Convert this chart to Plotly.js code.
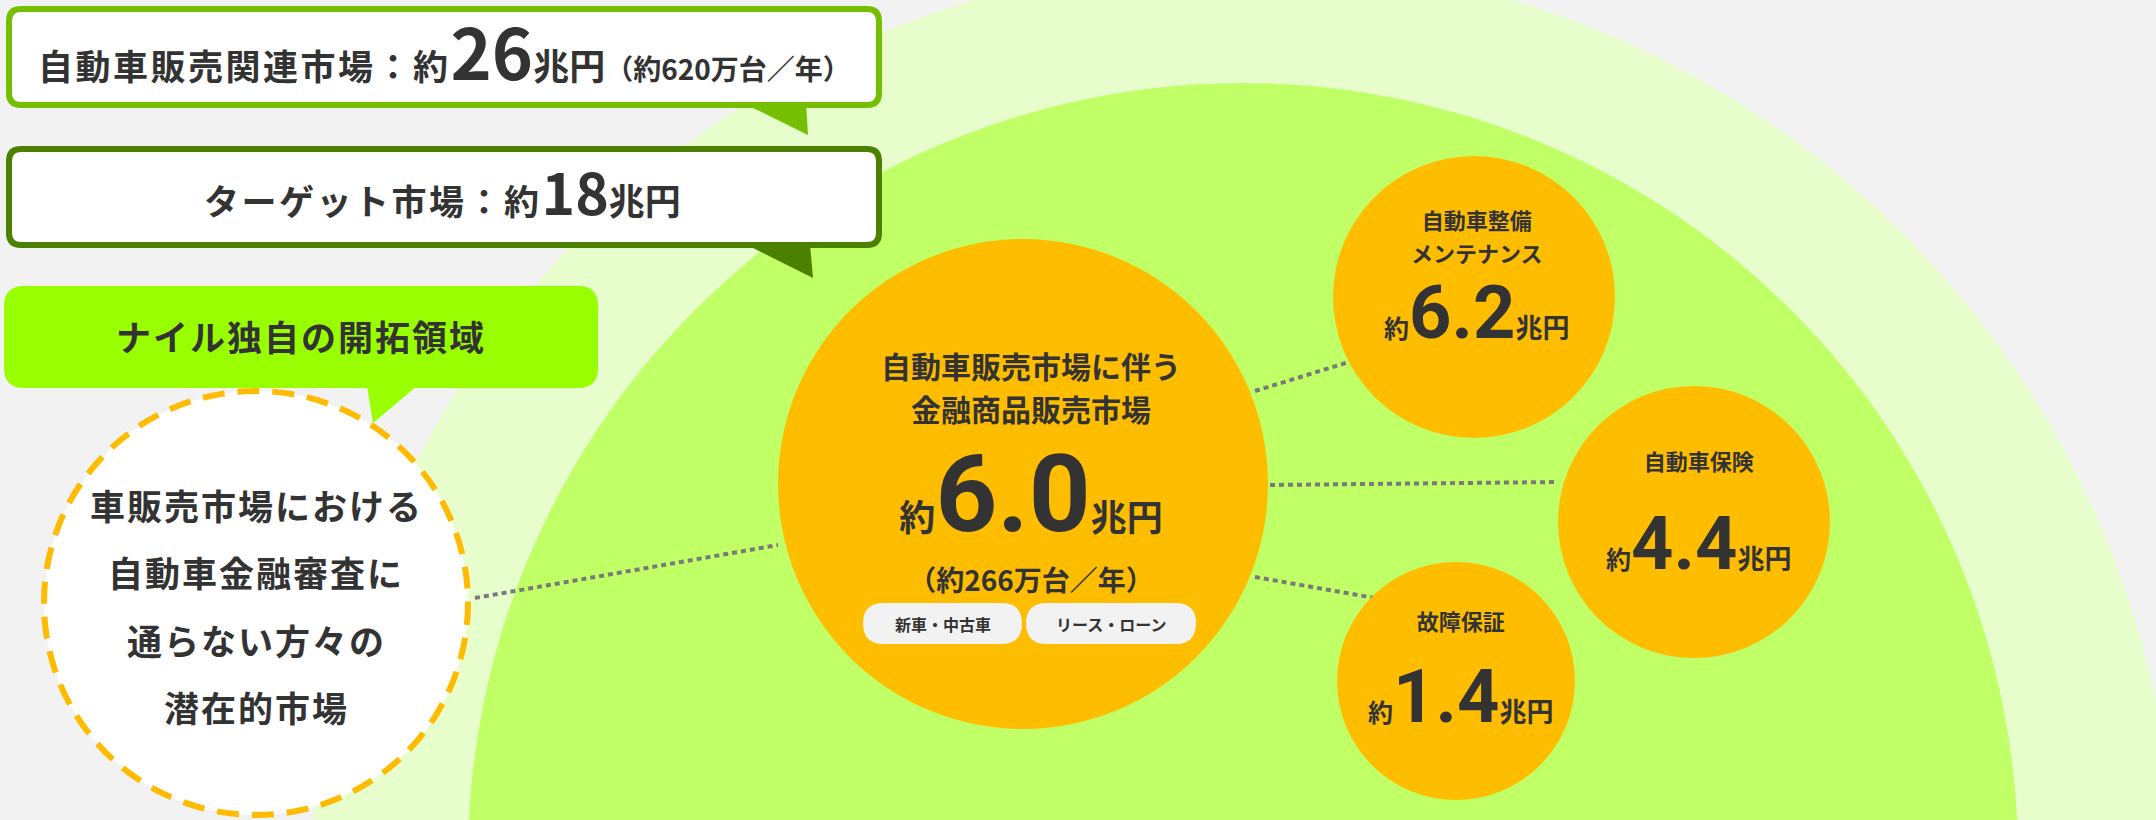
<!DOCTYPE html>
<html>
<head>
<meta charset="utf-8">
<script src="https://cdn.plot.ly/plotly-3.0.1.min.js"></script>
<style>html,body{margin:0;padding:0;background:#f2f2f2;}#chart{width:2156px;height:820px;}</style>
</head>
<body>
<div id="chart"></div>
<script>
// ---------- data ----------
const totalMarketLabel = '自動車販売関連市場：約';
const totalMarketValue = 26;          // 兆円
const totalMarketUnits = 620;         // 万台／年
const targetMarketLabel = 'ターゲット市場：約';
const targetMarketValue = 18;         // 兆円
const nileLabel = 'ナイル独自の開拓領域';
const potentialLines = ['車販売市場における', '自動車金融審査に', '通らない方々の', '潜在的市場'];

const mainMarketLines = ['自動車販売市場に伴う', '金融商品販売市場'];
const mainMarketValue = 6.0;          // 兆円
const mainMarketUnits = 266;          // 万台／年
const mainSegments = ['新車・中古車', 'リース・ローン'];

const subMarketNames = [['自動車整備', 'メンテナンス'], ['自動車保険'], ['故障保証']];
const subMarketValues = [6.2, 4.4, 1.4]; // 兆円

// ---------- layout / style (pixel space of the hidden axes) ----------
const W = 2156, H = 820;
const FONT = "'Noto Sans CJK JP', 'Noto Sans', sans-serif";
const TXT = '#333333';
const ASC = 1.16;   // ascent of the CJK font, in em
const C = {
  bg: '#f2f2f2', outer: '#e8fdcc', inner: '#c0ff66', lime: '#99ff00',
  orange: '#ffbd00', box1: '#74c000', box2: '#4c8000', pill: '#f2f2f2', dot: '#7a7a7a'
};
const geo = {
  outer: {cx: 1243, cy: 893, r: 933},
  inner: {cx: 1243, cy: 858, r: 775},
  box1: [9, 9, 879, 105], box2: [9, 149, 879, 245], box3: [4, 286, 598, 388],
  tail1: [[745, 104], [808, 135], [806, 104]],
  tail2: [[745, 244], [813, 278], [810, 244]],
  tail3: [[367, 386], [373, 423], [417, 386]],
  dashed: {cx: 256, cy: 603, r: 212},
  main: {cx: 1023, cy: 484, r: 245},
  subs: [{cx: 1474, cy: 297, r: 141}, {cx: 1694, cy: 522, r: 136}, {cx: 1456, cy: 681, r: 119}],
  links: [[475, 598, 778, 545], [1255, 391, 1349, 362], [1270, 485, 1558, 482], [1255, 577, 1375, 598]],
  pills: [[863, 603, 1022, 644], [1026, 603, 1196, 644]]
};

function rr(x0, y0, x1, y1, r) {
  return `M${x0 + r},${y0} L${x1 - r},${y0} Q${x1},${y0} ${x1},${y0 + r} L${x1},${y1 - r} Q${x1},${y1} ${x1 - r},${y1} ` +
         `L${x0 + r},${y1} Q${x0},${y1} ${x0},${y1 - r} L${x0},${y0 + r} Q${x0},${y0} ${x0 + r},${y0} Z`;
}
function tri(p) { return `M${p[0][0]},${p[0][1]} L${p[1][0]},${p[1][1]} L${p[2][0]},${p[2][1]} Z`; }
function circ(c, fill, line) {
  return {type: 'circle', xref: 'x', yref: 'y', x0: c.cx - c.r, x1: c.cx + c.r, y0: c.cy - c.r, y1: c.cy + c.r,
          fillcolor: fill, line: line || {width: 0}, layer: 'above'};
}
function path(d, fill, line) {
  return {type: 'path', xref: 'x', yref: 'y', path: d, fillcolor: fill, line: line || {width: 0}, layer: 'above'};
}

const shapes = [];
shapes.push(circ(geo.outer, C.outer));
shapes.push(circ(geo.inner, C.inner));
shapes.push(path(tri(geo.tail1), C.box1));
shapes.push(path(rr(...geo.box1, 12), '#ffffff', {color: C.box1, width: 6}));
shapes.push(path(tri(geo.tail2), C.box2));
shapes.push(path(rr(...geo.box2, 12), '#ffffff', {color: C.box2, width: 6}));
shapes.push(path(tri(geo.tail3), C.lime));
shapes.push(path(rr(...geo.box3, 20), C.lime));
geo.links.forEach(l => shapes.push({type: 'line', xref: 'x', yref: 'y', x0: l[0], y0: l[1], x1: l[2], y1: l[3],
  line: {color: C.dot, width: 4, dash: '5px,4px'}, layer: 'above'}));
shapes.push(circ(geo.dashed, '#ffffff', {color: '#ffbb00', width: 6, dash: '22px,13px'}));
shapes.push(circ(geo.main, C.orange));
geo.subs.forEach(s => shapes.push(circ(s, C.orange)));
geo.pills.forEach(p => shapes.push(path(rr(p[0], p[1], p[2], p[3], (p[3] - p[1]) / 2), C.pill)));

const ann = [];
function txt(x, y, text, size, extra) {
  ann.push(Object.assign({xref: 'x', yref: 'y', x: x, y: y, text: text, showarrow: false,
    xanchor: 'center', yanchor: 'middle', borderpad: 0, borderwidth: 0,
    font: {family: FONT, size: size, color: TXT, weight: 700}}, extra || {}));
}
const sp = (s, t, ls) => `<span style="font-size:${s}px${ls ? ';letter-spacing:' + ls + 'px' : ''}">${t}</span>`;
const num = (s, t) => `<span style="font-size:${s}px;font-family:Roboto">${t}</span>`;

// stack lines in one text at given baselines: pick a line step (>= 7.8px) that fits the gaps best
function stack(x, lines) {
  const gaps = lines.map(l => l.base - lines[0].base);
  let best = null;
  for (let s = 7.8; s <= 14; s += 0.01) {
    const err = Math.max(...gaps.map(g => Math.abs(Math.round(g / s) * s - g)));
    if (!best || err < best.err - 1e-9) best = {s: s, err: err};
  }
  const s = best.s;
  let text = lines[0].html, prev = 0;
  for (let i = 1; i < lines.length; i++) {
    const n = Math.round(gaps[i] / s);
    text += '<br>'.repeat(n - prev) + lines[i].html;
    prev = n;
  }
  txt(x, lines[0].base - ASC * lines[0].size, text, s / 1.3, {yanchor: 'top'});
}

// Box 1
txt(444, 49, sp(35, totalMarketLabel, 2.5) + sp(70, String(totalMarketValue)) + sp(36, '兆円') +
    sp(28, '（約' + totalMarketUnits + '万台／年）'), 35);
// Box 2
txt(442, 190, sp(35, targetMarketLabel, 2.5) + sp(57, String(targetMarketValue)) + sp(36, '兆円'), 35);
// Box 3
txt(301, 335, sp(35, nileLabel, 2), 35);
// potential market lines
const potY = [504, 571, 639, 706];
potentialLines.forEach((l, i) => txt(geo.dashed.cx, potY[i], sp(35, l, 2), 35));

// main market block
stack(1031, [
  {html: sp(30, mainMarketLines[0]), base: 377.5, size: 30},
  {html: sp(30, mainMarketLines[1]), base: 421, size: 30},
  {html: sp(36, '約') + num(108, mainMarketValue.toFixed(1)) + sp(36, '兆円'), base: 530},
  {html: sp(28, '（約' + mainMarketUnits + '万台／年）'), base: 589}
]);
mainSegments.forEach((s, i) => {
  const p = geo.pills[i];
  txt((p[0] + p[2]) / 2, (p[1] + p[3]) / 2, s, 16);
});

// sub markets
const subX = [1476, 1698, 1460];
const subLabelBase = [[229, 261], [470], [630]];
const subRowBase = [338, 569, 722];
subMarketNames.forEach((names, i) => {
  const lines = names.map((n, j) => ({html: sp(22, n), base: subLabelBase[i][j], size: 22}));
  lines.push({html: sp(25, '約') + num(74, subMarketValues[i].toFixed(1)) + sp(27, '兆円'), base: subRowBase[i]});
  stack(subX[i], lines);
});

const layout = {
  width: W, height: H, margin: {l: 0, r: 0, t: 0, b: 0},
  paper_bgcolor: C.bg, plot_bgcolor: C.bg, showlegend: false,
  xaxis: {range: [0, W], visible: false, fixedrange: true},
  yaxis: {range: [H, 0], visible: false, fixedrange: true},
  shapes: shapes, annotations: ann
};
Plotly.newPlot('chart', [{type: 'scatter', x: [], y: [], hoverinfo: 'skip'}], layout, {staticPlot: true});
</script>
</body>
</html>
